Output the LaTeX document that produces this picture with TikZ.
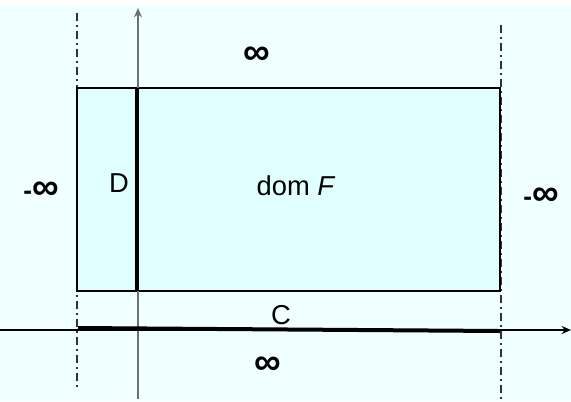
\documentclass[tikz,border=0pt]{standalone}
\usepackage{fontspec}
\setmainfont{Liberation Sans}
\usetikzlibrary{arrows.meta}
\definecolor{bgcyan}{HTML}{F0FFFF}
\definecolor{domcyan}{HTML}{E0FFFF}
\definecolor{axisgray}{HTML}{707070}
\newcommand\infsym{{\fontsize{28}{28}\selectfont ∞}}
\tikzset{
  lbl/.style={font=\fontsize{20.5}{23}\selectfont, inner sep=0pt},
  inflbl/.style={font=\fontsize{19.5}{22}\selectfont\bfseries, inner sep=0pt},
  dashdot/.style={draw=black!80, line width=0.9pt, dash pattern=on 6pt off 3pt on 1.5pt off 3pt},
  axis/.style={line width=1pt, -{Stealth[length=7pt,width=6pt]}},
  thickline/.style={line width=3pt},
}
\begin{document}
\begin{tikzpicture}[x=0.75pt, y=-0.75pt]
  \useasboundingbox (0,0) rectangle (571,401);
  \fill[bgcyan] (0,5) rectangle (571,401);
  % the domain
  \coordinate (dsw) at (77,291);
  \coordinate (dne) at (500,88);
  \fill[domcyan] (dsw) rectangle (dne);
  % asymptotes
  \coordinate (ltop) at (77,13);
  \coordinate (lbot) at (77,388);
  \coordinate (rtop) at (501,25);
  \coordinate (rbot) at (501,399);
  \draw[dashdot] (ltop) -- (lbot);
  \draw[dashdot] (rtop) -- (rbot);
  \draw[line width=1.5pt] (dsw) rectangle (dne);
  % axes
  \coordinate (ybot) at (138,399);
  \coordinate (ytop) at (138,8);
  \coordinate (xleft) at (0,330);
  \coordinate (xright) at (571,330);
  \draw[axis, axisgray] (ybot) -- (ytop);
  \draw[axis] (xleft) -- (xright);
  % the sets D and C
  \coordinate (dtop) at (137,88);
  \coordinate (dbot) at (137,291);
  \coordinate (cleft) at (78,328);
  \coordinate (cright) at (500,331);
  \draw[thickline] (dtop) -- (dbot);
  \draw[thickline] (cleft) -- (cright);
  % labels
  \node[inflbl] (inftop) at (257,56) {\infsym};
  \node[inflbl] (infbot) at (268,366) {\infsym};
  \node[inflbl] (minfl) at (41,191) {-\infsym};
  \node[inflbl] (minfr) at (541,197) {-\infsym};
  \node[lbl] (dlbl) at (119,183) {D};
  \node[lbl] (domlbl) at (296,186) {dom \textit{F}};
  \node[lbl] (clbl) at (281,315) {C};
\end{tikzpicture}
\end{document}
